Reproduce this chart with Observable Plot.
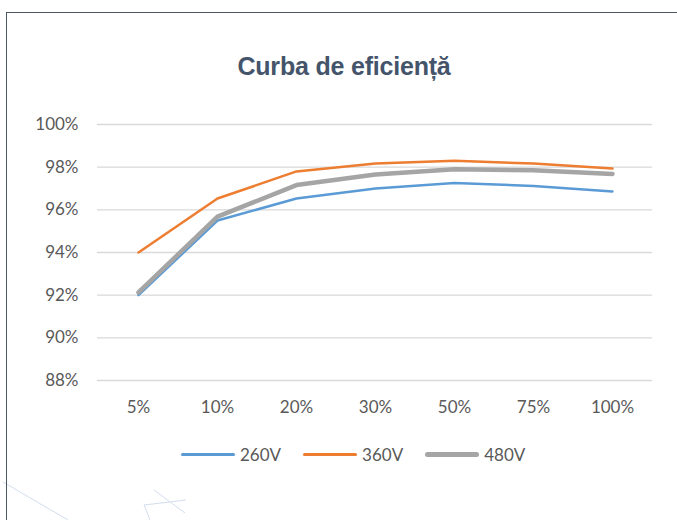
<!DOCTYPE html>
<html>
<head>
<meta charset="utf-8">
<script src="https://cdn.jsdelivr.net/npm/d3@7"></script>
<script src="https://cdn.jsdelivr.net/npm/@observablehq/plot@0.6"></script>
<style>
  html, body { margin: 0; padding: 0; background: #fff; }
  #wrap { position: relative; width: 677px; height: 520px; overflow: hidden; background: #fff; }
  #frame { position: absolute; left: 6px; top: 12px; width: 700px; height: 600px; border-left: 1.5px solid #4a5866; border-top: 1.5px solid #4a5866; }
  #title { position: absolute; left: 0; top: 52px; width: 688px; text-align: center; font-family: "Liberation Sans", Arial, sans-serif; font-weight: bold; font-size: 25px; color: #44546A; letter-spacing: -0.2px; }
  #chart { position: absolute; left: 0; top: 0; }
  #legend { position: absolute; left: 181px; top: 444px; display: flex; align-items: center; font-family: Lato, sans-serif; font-size: 17px; color: #595959; }
  .item { display: flex; align-items: center; margin-right: 22px; }
  .sw { width: 54px; border-radius: 3px; margin-right: 5px; }
  #deco { position: absolute; left: 0; top: 0; }
</style>
</head>
<body>
<div id="wrap">
  <svg id="deco" width="677" height="520"><g stroke="#c9d6ea" stroke-width="1" fill="none" opacity="0.8">
    <path d="M3 482 L68 520"/><path d="M154 490 L185 513"/><path d="M144 505 L186 500"/><path d="M144 505 L150 520"/>
  </g></svg>
  <div id="frame"></div>
  <div id="title">Curba de eficiență</div>
  <div id="chart"></div>
  <div id="legend"></div>
</div>
<script>
const categories = ["5%", "10%", "20%", "30%", "50%", "75%", "100%"];
const series = ["260V", "360V", "480V"];
const v260 = [92.0, 95.5, 96.53, 97.0, 97.26, 97.12, 96.86];
const v360 = [94.0, 96.53, 97.8, 98.17, 98.3, 98.17, 97.94];
const v480 = [92.13, 95.68, 97.16, 97.66, 97.9, 97.86, 97.68];
const yTicks = [88, 90, 92, 94, 96, 98, 100];
const colors = ["#5B9BD5", "#ED7D31", "#A5A5A5"];
const widths = [2.5, 2.5, 4.5];

const values = [v260, v360, v480];
const rows = series.map((s, si) => categories.map((c, i) => ({series: s, cat: c, value: values[si][i]})));

const plot = Plot.plot({
  width: 677,
  height: 430,
  marginLeft: 97,
  marginRight: 25,
  marginTop: 124,
  marginBottom: 50,
  style: {background: "transparent", fontFamily: "Lato, sans-serif", fontSize: "17px", color: "#595959"},
  x: {type: "point", domain: categories, padding: 0.5, label: null},
  y: {domain: [88, 100], ticks: yTicks, label: null, tickFormat: d => d + "%"},
  marks: [
    Plot.gridY(yTicks, {stroke: "#d9d9d9", strokeOpacity: 1, strokeWidth: 1.4}),
    Plot.axisY(yTicks, {tickSize: 0, tickPadding: 19, tickFormat: d => d + "%", fill: "#595959", label: null}),
    Plot.axisX(categories, {tickSize: 0, tickPadding: 20, fill: "#595959", label: null}),
    ...rows.map((r, si) => Plot.line(r, {x: "cat", y: "value", stroke: colors[si], strokeWidth: widths[si], strokeLinejoin: "round", strokeLinecap: "round"}))
  ]
});
document.getElementById("chart").appendChild(plot);

const legend = document.getElementById("legend");
series.forEach((s, i) => {
  const item = document.createElement("div");
  item.className = "item";
  const sw = document.createElement("div");
  sw.className = "sw";
  sw.style.height = widths[i] + 1 + "px";
  sw.style.background = colors[i];
  const t = document.createElement("span");
  t.textContent = s;
  item.appendChild(sw); item.appendChild(t);
  legend.appendChild(item);
});
</script>
</body>
</html>
